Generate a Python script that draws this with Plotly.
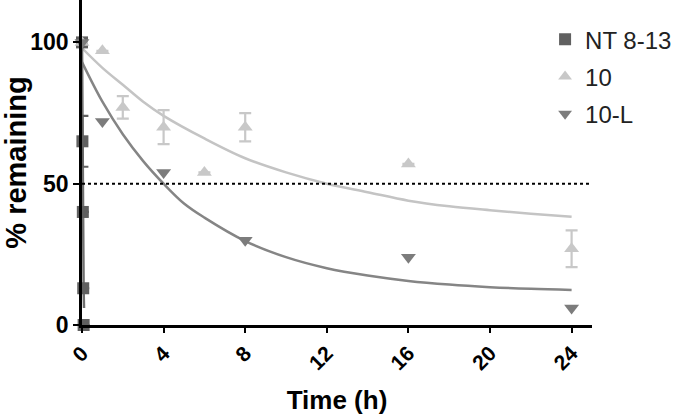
import plotly.graph_objects as go

# ---- data ----
nt_x = [0, 0.02, 0.04, 0.06, 0.08]
nt_y = [100, 65, 40, 13, 0]
nt_err = [0, 9, 0, 0, 0]

s10_x = [0, 1, 2, 4, 6, 8, 16, 24]
s10_y = [100, 97, 77, 70, 54, 70, 57, 27]
s10_err = [0, 0, 4, 6, 0, 5, 0, 6.5]

s10l_x = [0, 1, 4, 8, 16, 24]
s10l_y = [100, 72, 54, 30, 24, 6]

# fitted curves
fit_nt_x = [0, 0.02, 0.04, 0.06, 0.08, 0.1]
fit_nt_y = [100, 65, 40, 22, 12, 6]

fit10_x = [0, 1, 2, 3, 4, 6, 8, 10, 12, 14, 16, 18, 20, 22, 24]
fit10_y = [98, 91, 85, 79, 74, 66, 59, 54, 50, 47, 44, 42, 40.6, 39.4, 38.3]

fit10l_x = [0, 1, 2, 3, 4, 5, 6, 8, 10, 12, 14, 16, 18, 20, 22, 24]
fit10l_y = [93, 79, 67.5, 58, 50, 43, 38, 29.7, 24, 20.1, 17.5, 15.6, 14.3, 13.4, 12.8, 12.4]

x_ticks = [0, 4, 8, 12, 16, 20, 24]
y_ticks = [0, 50, 100]

C_NT = "#606060"
C_10 = "#c8c8c8"
C_10L = "#7c7c7c"
FONT = "Arial, Liberation Sans, sans-serif"

fig = go.Figure()

# fit curves
fig.add_trace(go.Scatter(x=fit10_x, y=fit10_y, mode="lines", line=dict(color="#c4c4c4", width=2.5, shape="spline"),
                         showlegend=False, hoverinfo="skip", cliponaxis=False))
fig.add_trace(go.Scatter(x=fit10l_x, y=fit10l_y, mode="lines", line=dict(color="#858585", width=2.5, shape="spline"),
                         showlegend=False, hoverinfo="skip", cliponaxis=False))
fig.add_trace(go.Scatter(x=fit_nt_x, y=fit_nt_y, mode="lines", line=dict(color="#707070", width=2.5),
                         showlegend=False, hoverinfo="skip", cliponaxis=False))

# data points
fig.add_trace(go.Scatter(x=nt_x, y=nt_y, mode="markers", name="NT 8-13", legendgroup="a",
                         marker=dict(symbol="square", size=12, color=C_NT),
                         error_y=dict(type="data", array=nt_err, color=C_NT, thickness=2.2, width=6),
                         cliponaxis=False))
fig.add_trace(go.Scatter(x=s10_x, y=s10_y, mode="markers", name="10", legendgroup="b",
                         marker=dict(symbol="triangle-up", size=13, color=C_10),
                         error_y=dict(type="data", array=s10_err, color=C_10, thickness=2.2, width=6),
                         cliponaxis=False))
fig.add_trace(go.Scatter(x=s10l_x, y=s10l_y, mode="markers", name="10-L", legendgroup="c",
                         marker=dict(symbol="triangle-down", size=13, color=C_10L),
                         cliponaxis=False))

fig.add_shape(type="line", xref="paper", x0=0, x1=1, yref="y", y0=50, y1=50,
              line=dict(color="black", width=2, dash="dot"))

fig.update_layout(
    width=686, height=415,
    margin=dict(l=82, r=94, t=0, b=90),
    plot_bgcolor="white", paper_bgcolor="white",
    font=dict(family=FONT, color="black"),
    legend=dict(x=0.908, y=0.947, xanchor="left", yanchor="top",
                font=dict(size=24, color="#222"), traceorder="grouped",
                itemsizing="constant", tracegroupgap=3, bgcolor="rgba(0,0,0,0)"),
    showlegend=True,
)
fig.update_xaxes(range=[0, 25], tickvals=x_ticks, ticktext=[str(v) for v in x_ticks],
                 tickangle=-45, showgrid=False, zeroline=False,
                 showline=True, linecolor="black", linewidth=2.5,
                 ticks="outside", ticklen=5, tickwidth=2, tickcolor="black",
                 tickfont=dict(size=21, family=FONT, weight="bold"),
                 title=dict(text="<b>Time (h)</b>", font=dict(size=26), standoff=18))
fig.update_yaxes(range=[0, 115], tickvals=y_ticks, showgrid=False, zeroline=False,
                 showline=True, linecolor="black", linewidth=2.5,
                 ticks="outside", ticklen=6, tickwidth=2, tickcolor="black",
                 tickfont=dict(size=23, family=FONT, weight="bold"),
                 title=dict(text="<b>% remaining</b>", font=dict(size=29), standoff=0))

fig.write_html("out.html", config={"displayModeBar": False},
               post_script="document.body.style.margin='0';document.body.style.overflow='hidden';")
